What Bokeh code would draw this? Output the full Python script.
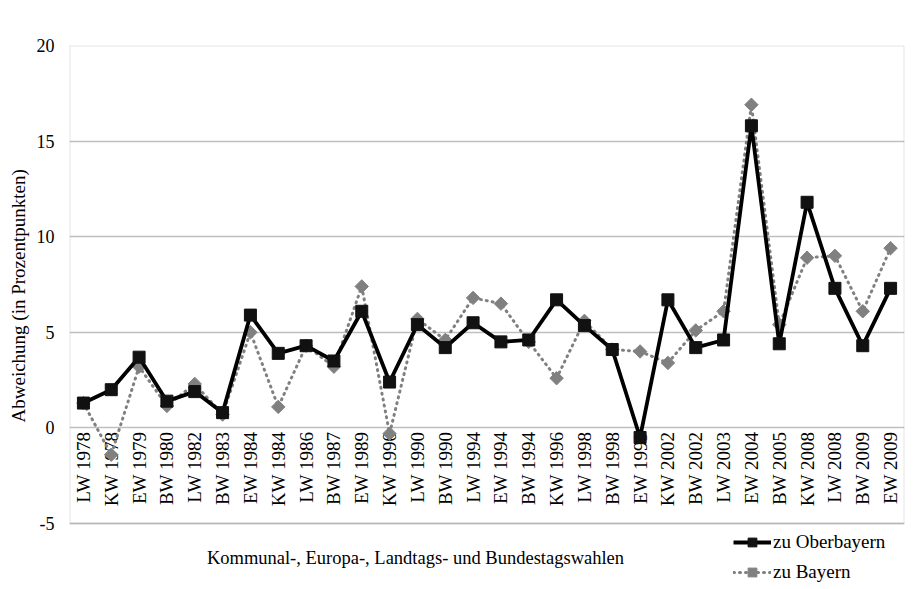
import numpy as np
from bokeh.plotting import figure
from bokeh.models import (FactorRange, Range1d, FixedTicker, Legend, LegendItem,
                          Label, ColumnDataSource, BoxAnnotation, Title)
from bokeh.core.properties import value
from bokeh.embed import file_html
from bokeh.resources import INLINE

categories = ["LW 1978", "KW 1978", "EW 1979", "BW 1980", "LW 1982", "BW 1983",
              "EW 1984", "KW 1984", "LW 1986", "BW 1987", "EW 1989", "KW 1990",
              "LW 1990", "BW 1990", "LW 1994", "EW 1994", "BW 1994", "KW 1996",
              "LW 1998", "BW 1998", "EW 1999", "KW 2002", "BW 2002", "LW 2003",
              "EW 2004", "BW 2005", "KW 2008", "LW 2008", "BW 2009", "EW 2009"]

oberbayern = [1.3, 2.0, 3.7, 1.4, 1.9, 0.8, 5.9, 3.9, 4.3, 3.5, 6.1, 2.4,
              5.4, 4.2, 5.5, 4.5, 4.6, 6.7, 5.35, 4.1, -0.5, 6.7, 4.2, 4.6,
              15.8, 4.4, 11.8, 7.3, 4.3, 7.3]

bayern = [1.3, -1.4, 3.2, 1.15, 2.3, 0.7, 5.0, 1.1, 4.3, 3.2, 7.4, -0.3,
          5.7, 4.6, 6.8, 6.5, 4.5, 2.6, 5.6, 4.1, 4.0, 3.4, 5.1, 6.1,
          16.9, 5.4, 8.9, 9.0, 6.1, 9.4]

y_ticks = [-5, 0, 5, 10, 15, 20]
y_tick_labels = ["-5", "0", "5", "10", "15", "20"]
y_min, y_max = -5, 20

FONT = "Liberation Serif"
FS = "19px"

src = ColumnDataSource(dict(cat=categories, ob=oberbayern, by=bayern,
                            lab_y=[-0.2] * len(categories)))

p = figure(width=914, height=589,
           x_range=FactorRange(factors=categories, range_padding=0),
           y_range=Range1d(-8.45, y_max),
           output_backend="svg", toolbar_location=None,
           min_border_left=69, min_border_right=10,
           min_border_top=45, min_border_bottom=0)

p.outline_line_color = None
p.xaxis.visible = False
p.xgrid.grid_line_color = None
p.ygrid.grid_line_color = "#bfbfbf"
p.ygrid.grid_line_width = 1.5
p.ygrid.ticker = FixedTicker(ticks=y_ticks)

# plot-area box from -5 to 20
p.add_layout(BoxAnnotation(bottom=y_min, top=y_max, fill_alpha=0,
                           line_color="#a6a6a6", line_width=2))

ax = p.yaxis[0]
ax.ticker = FixedTicker(ticks=y_ticks)
ax.major_label_overrides = {t: s for t, s in zip(y_ticks, y_tick_labels)}
ax.axis_line_color = None
ax.major_tick_line_color = None
ax.minor_tick_line_color = None
ax.major_tick_out = 0
ax.major_tick_in = 0
ax.major_label_standoff = 15
ax.major_label_text_font = FONT
ax.major_label_text_font_size = "18px"
ax.major_label_text_color = "black"

p.add_layout(Title(text="Abweichung (in Prozentpunkten)", align="left",
                   offset=167, text_font=FONT, text_font_size=FS,
                   text_font_style="normal", text_color="black"), "left")

# category labels inside the plot, rotated
p.text(x="cat", y="lab_y", text="cat", source=src, angle=np.pi / 2,
       text_align="right", text_baseline="middle",
       text_font=value(FONT), text_font_size=FS, text_color="black")

l2 = p.line(x="cat", y="by", source=src, line_color="#808080", line_width=3,
            line_dash="1 5", line_cap="round")
s2 = p.scatter(x="cat", y="by", source=src, marker="square", angle=np.pi / 4,
               size=9.5, fill_color="#808080", line_color="#808080")
l1 = p.line(x="cat", y="ob", source=src, line_color="black", line_width=3.8)
s1 = p.scatter(x="cat", y="ob", source=src, marker="square", size=12,
               fill_color="#111111", line_color="#111111")

p.add_layout(Label(x=12.43, y=-6.78,
                   text="Kommunal-, Europa-, Landtags- und Bundestagswahlen",
                   text_align="center", text_baseline="middle",
                   text_font=FONT, text_font_size="18.5px", text_color="black"))

legend = Legend(items=[LegendItem(label="zu Oberbayern", renderers=[l1, s1]),
                       LegendItem(label="zu Bayern", renderers=[l2, s2])],
                location=(664, 6), orientation="vertical",
                background_fill_alpha=0, border_line_color=None,
                padding=0, margin=0, spacing=8,
                glyph_width=38, glyph_height=22, label_height=22,
                label_standoff=2, label_text_font=FONT,
                label_text_font_size=FS, label_text_color="black")
p.add_layout(legend)

open("out.html", "w").write(file_html(p, INLINE))
